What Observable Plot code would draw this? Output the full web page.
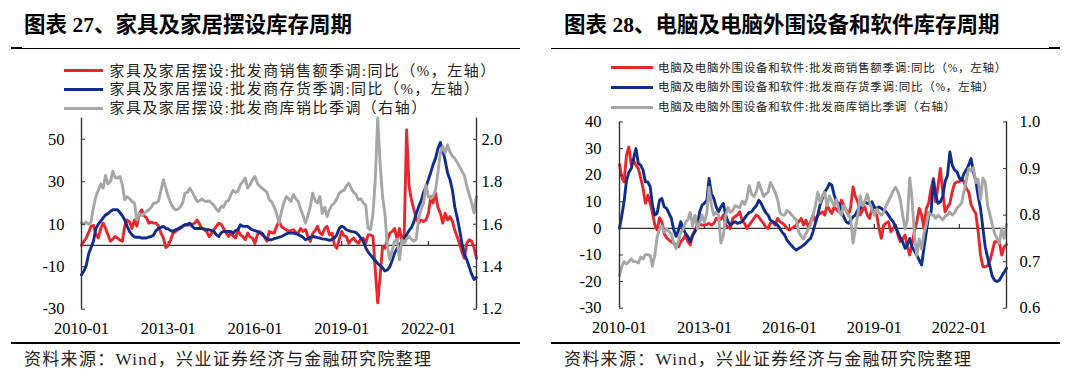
<!DOCTYPE html>
<html><head><meta charset="utf-8">
<script src="https://cdn.jsdelivr.net/npm/d3@7"></script>
<script src="https://cdn.jsdelivr.net/npm/@observablehq/plot@0.6"></script>
<style>
body{margin:0;background:#fff;}
#page{position:relative;width:1080px;height:384px;overflow:hidden;background:#fff;font-family:"Liberation Serif","Noto Sans CJK SC",serif;}
</style></head><body><div id="page"></div>
<script>
// ---- categories ----
const months = d3.utcMonth.range(new Date(Date.UTC(2010,0,1)), new Date(Date.UTC(2023,9,1))); // 2010-01 .. 2023-09
const xTickLabels = ["2010-01","2013-01","2016-01","2019-01","2022-01"];

const titles = ["图表 27、家具及家居摆设库存周期", "图表 28、电脑及电脑外围设备和软件库存周期"];
const furnLegend = ["家具及家居摆设:批发商销售额季调:同比（%，左轴）","家具及家居摆设:批发商存货季调:同比（%，左轴）","家具及家居摆设:批发商库销比季调（右轴）"];
const pcLegend = ["电脑及电脑外围设备和软件:批发商销售额季调:同比（%，左轴）","电脑及电脑外围设备和软件:批发商存货季调:同比（%，左轴）","电脑及电脑外围设备和软件:批发商库销比季调（右轴）"];
const sourceText = "资料来源：Wind，兴业证券经济与金融研究院整理";

// ---- 图表27 家具及家居摆设 ----
const furnSales = [
 0,2,3.5,6,9,9.5,5.5,3.5,8,10.5,8,5,
 2,3,4.2,3.5,2.5,2,9,12,11,8,12,9,
 15,16.8,14,13,10.5,11,10.5,10.5,9,5.8,3.5,-1,
 0,2.7,5.8,6.5,7.4,8,9,9.7,9.5,9.7,10,10.5,
 12,10,8,7.5,6.6,4.2,5.5,7.4,9,10.5,10,8,
 6,4.2,5.8,4.5,3.5,7.4,5,4.2,2.7,5.8,4,3.5,
 1,5,6.6,5,4,2,6.6,6,5.8,9,11.3,9,
 8,7.4,6.6,7,7.4,6,5.8,8,6.6,7.5,4.2,1.9,
 5.8,7,9,6,5,8,9,5,5.8,0.3,-1.3,2.7,
 6.6,4.5,4.2,1,2.5,3.5,1.9,1,3,3.5,1,5,
 5,4.2,-11.5,-27,-14.6,-0.5,-1.3,2.7,5.8,6.6,8,2.7,
 8,2,5,54.4,28,21.5,17,12.9,10.5,12,11.3,12,
 15,23,20,24.6,18,15.2,10.5,15.2,12,13.6,11.3,7,
 4,0.3,-3,-6,1,2.7,2,-1,-6];
const furnInv = [
 -13.8,-12,-9.5,-4,-1,2,8,10,11.5,13,14.4,15,
 16,16.8,16.8,16.8,15.5,14,12,9,6.5,5,4,3.9,
 3.9,3.5,3.5,3.5,4,4.2,5,7,8,8.5,9,8,
 7.8,7,6.6,7.4,7.8,8.5,9,9.7,10,10.5,9,8,
 8,8,8,7.8,7.4,7.4,7,6.6,5,4.2,6,6.6,
 6.6,6.6,6.6,5.8,7,7.4,9.7,9,9,9,8,7.4,
 7,6.6,6,5.8,4.2,3,2.7,2.7,3.2,3.5,3.9,4.2,
 4.8,5.5,5.8,5.8,5.8,5.5,5.2,4.5,3.9,2.7,3.2,3.8,
 4.2,4,3.7,3.5,3.1,3,2.8,2.4,2.8,3.5,5,8,
 9,8.5,7.4,7,6.6,6.4,6.1,5,3.5,1.9,-1,-3,
 -4.5,-6,-7,-8.5,-9.5,-10.5,-12,-11.5,-10,-7,-3.5,-1.5,
 0.3,2,3.5,5,7,8.5,11,15,18.4,21,25,27.5,
 31,34.5,38,41,45.5,48.5,45,40,34,31,26,18,
 13,7,1,-4,-6.7,-10,-13.5,-16,-15];
const furnRatio = [
 1.605,1.60,1.61,1.60,1.61,1.68,1.73,1.76,1.79,1.77,1.83,1.79,
 1.80,1.85,1.82,1.817,1.825,1.785,1.715,1.73,1.72,1.707,1.70,1.62,
 1.65,1.64,1.65,1.66,1.668,1.68,1.70,1.70,1.71,1.76,1.81,1.77,
 1.73,1.70,1.68,1.668,1.67,1.68,1.70,1.746,1.75,1.77,1.75,1.73,
 1.707,1.71,1.72,1.71,1.707,1.71,1.70,1.69,1.67,1.66,1.684,1.68,
 1.707,1.71,1.738,1.76,1.75,1.755,1.785,1.80,1.817,1.77,1.785,1.81,
 1.825,1.793,1.78,1.77,1.76,1.75,1.715,1.705,1.68,1.65,1.605,1.66,
 1.70,1.73,1.72,1.707,1.74,1.72,1.707,1.67,1.64,1.605,1.64,1.684,
 1.746,1.71,1.70,1.73,1.65,1.68,1.636,1.67,1.69,1.70,1.72,1.746,
 1.755,1.76,1.78,1.793,1.77,1.75,1.74,1.715,1.72,1.70,1.69,1.582,
 1.574,1.65,1.81,2.10,1.887,1.73,1.65,1.495,1.433,1.48,1.52,1.53,
 1.433,1.527,1.51,1.53,1.542,1.53,1.52,1.53,1.63,1.67,1.70,1.785,
 1.73,1.72,1.73,1.76,1.84,1.935,1.966,1.935,1.974,1.94,1.92,1.91,
 1.89,1.87,1.85,1.83,1.78,1.74,1.70,1.653,1.73];

// ---- 图表28 电脑及电脑外围设备和软件 ----
const pcSales = [
 24,19,17.5,27.5,30.6,24,25.6,23.75,22.5,19,15,9.4,
 12.5,9.4,6,1.25,-0.6,4,2.5,-2,-3.5,-4.4,-5,-5.6,
 -6.25,-6.9,-5,-4,-2.5,-5,-6.25,-2.5,-0.6,1.5,1.6,1.25,
 1.25,1.5,1.9,1.25,1.9,3.75,3.1,3.5,5,1.25,0.5,0,
 3.75,4.5,5,6.25,3,1.9,0,1.25,2.5,3.75,5,4.4,
 3,1.9,0.5,0,2,2.5,1.25,3.75,2.5,2,1.25,0,
 -0.6,0,0.6,1.25,2.5,3.75,1.25,3.1,0.6,2.5,5,2.5,
 5,5.5,6.25,5,8.75,7,5.6,8.1,7,6.25,10.6,8.75,
 7,5,8,15.6,12,10,5,7,8.1,5,3.75,7.5,
 6,5,0,-3.75,1.25,2,2.5,-1.25,0,1.25,-2.5,-5,
 -4,-2.5,-6.9,-10,-6,-1,2.5,7.5,5,0,7.5,9.4,
 15,18.75,10,16,22.5,13.75,6.25,8,9.4,13.75,16.9,17.5,
 17.5,18.75,17.5,15,13.75,9,7,5.6,-1.25,-10,-14.4,-14.4,
 -14,-12,-8.75,-5,-5,-5,-10,-7,-6];
const pcInv = [
 0,5,10,18,21,22.5,26.25,30,24.4,23.75,21.9,17.5,
 17.5,15.6,9,5,5.6,10.6,11.25,8.1,7.5,5.6,3.75,-0.5,
 -3,-0.6,2.5,0,-1.9,-3.1,-5,-2.5,-1.25,1,6.25,8.75,
 9.5,10.6,18.75,13,11.25,8.1,6.25,8.1,9.4,5,2.5,1.25,
 2,2.5,1.9,2.2,2.5,3.75,5,6,6.25,7.5,8.5,10.6,
 9.4,7.5,6,5,3.1,2.5,2,1.25,0,-1.5,-2.5,-4.4,
 -5.6,-6.5,-7.5,-8.1,-7.5,-7,-6.25,-5.5,-4.5,-3.75,-1.25,2,
 5,9,11.25,13.75,15,16.9,16.25,12.5,10,9.4,6.25,4.5,
 2.5,1.9,3,4.4,5,7,7.5,8.75,10,9.4,9.4,10,
 8,7.5,8.1,7.5,6.8,6.25,5,3.5,2.5,0.6,-1.5,-3.5,
 -5,-7.5,-6.25,-3.75,-7,-8.5,-10,-11.9,-13.75,-7.5,-1.25,5,
 6,18.1,12.5,9.4,10,12,17.5,20,28.75,23.75,21.9,21.25,
 19,18.1,20.6,22,23.75,26.25,21.25,18,12,7.5,0,-7,
 -11,-14.5,-18,-19.5,-20,-19.5,-18,-16.5,-15];
const pcRatio = [
 0.67,0.69,0.70,0.695,0.70,0.706,0.70,0.70,0.697,0.71,0.706,0.715,
 0.715,0.713,0.69,0.713,0.752,0.77,0.777,0.763,0.77,0.765,0.759,0.74,
 0.728,0.745,0.763,0.77,0.784,0.79,0.806,0.777,0.80,0.77,0.784,0.80,
 0.784,0.806,0.86,0.82,0.80,0.806,0.80,0.74,0.756,0.80,0.816,0.806,
 0.81,0.82,0.818,0.816,0.83,0.823,0.835,0.863,0.845,0.84,0.85,0.87,
 0.856,0.84,0.845,0.849,0.87,0.86,0.849,0.834,0.806,0.80,0.80,0.81,
 0.806,0.80,0.795,0.79,0.763,0.755,0.749,0.76,0.77,0.78,0.80,0.82,
 0.849,0.827,0.84,0.849,0.82,0.841,0.83,0.82,0.834,0.81,0.80,0.82,
 0.81,0.80,0.793,0.74,0.77,0.80,0.841,0.82,0.83,0.845,0.827,0.81,
 0.80,0.813,0.805,0.80,0.806,0.82,0.83,0.841,0.852,0.86,0.85,0.834,
 0.80,0.77,0.79,0.88,0.834,0.756,0.713,0.749,0.727,0.76,0.78,0.806,
 0.80,0.80,0.793,0.80,0.795,0.79,0.797,0.80,0.806,0.80,0.805,0.815,
 0.82,0.827,0.85,0.875,0.90,0.895,0.902,0.87,0.877,0.834,0.88,0.87,
 0.82,0.80,0.78,0.76,0.75,0.74,0.77,0.75,0.78];

// ---- axis ticks ----
const furnLeftTicks = [-30,-10,10,30,50];
const furnRightTicks = [1.2,1.4,1.6,1.8,2.0];
const pcLeftTicks = [-30,-20,-10,0,10,20,30,40];
const pcRightTicks = [0.6,0.7,0.8,0.9,1.0];

const RED = "#E8262B", BLUE = "#0F2D8C", GRAY = "#A6A6A6", AX = "#333";
const FONT = '"Liberation Serif","Noto Sans CJK SC",serif';
const page = document.getElementById("page");

function el(parent, css, text){const d=document.createElement("div");d.style.cssText=css;if(text!=null)d.textContent=text;parent.appendChild(d);return d;}

function panel(cfg){
  const p = el(page, `position:absolute;top:0;left:${cfg.ox}px;width:540px;height:384px;`);
  el(p, `position:absolute;left:24px;top:14px;font-size:21.5px;font-weight:bold;white-space:nowrap;line-height:1.1;color:#000;`, cfg.title);
  el(p, `position:absolute;left:11px;top:47.5px;width:509px;height:1.3px;background:#000;`);
  el(p, `position:absolute;left:${cfg.stubL}px;top:46.8px;width:11px;height:2.6px;background:#000;`);
  const cols=[RED,BLUE,GRAY];
  cfg.legend.forEach((txt,i)=>{
    const cy = cfg.legY[i];
    el(p, `position:absolute;left:${cfg.swX}px;top:${cy-1.5}px;width:${cfg.swW}px;height:3px;background:${cols[i]};`);
    el(p, `position:absolute;left:${cfg.legX}px;top:${cy-10}px;height:20px;line-height:20px;font-size:${cfg.legFs}px;letter-spacing:${cfg.legLs}px;white-space:nowrap;color:#222;`, txt);
  });
  el(p, `position:absolute;left:11px;top:342.3px;width:509px;height:2px;background:#000;`);
  el(p, `position:absolute;left:24px;top:351px;font-size:17px;letter-spacing:1.3px;line-height:18px;white-space:nowrap;color:#222;`, sourceText);

  const xTicks = xTickLabels.map(s=>new Date(s+"-01T00:00:00Z"));
  const last = months[months.length-1];
  const rows = arr => months.map((d,i)=>({date:d, v:arr[i]}));
  const chart = Plot.plot({
    width:540, height:235,
    marginLeft:cfg.ml, marginRight:cfg.mr, marginTop:cfg.mt, marginBottom:cfg.mb,
    x:{type:"utc", domain:[months[0], last], label:null},
    y:{domain:cfg.yDomain, label:null},
    style:{background:"transparent", fontFamily:FONT, fontSize:"16.5px", color:"#000", overflow:"visible"},
    marks:[
      Plot.ruleY([0], {stroke:AX, strokeWidth:1.2}),
      Plot.ruleX(xTicks, {y1:0, y2:0, insetTop:-4, stroke:AX, strokeWidth:1.2}),
      Plot.line(rows(cfg.sales), {x:"date", y:"v", stroke:RED, strokeWidth:2.9, strokeLinejoin:"round"}),
      Plot.line(rows(cfg.inv), {x:"date", y:"v", stroke:BLUE, strokeWidth:2.9, strokeLinejoin:"round"}),
      Plot.line(rows(cfg.ratio), {x:"date", y:d=>cfg.toL(d.v), stroke:GRAY, strokeWidth:2.9, strokeLinejoin:"round"}),
      Plot.ruleX([months[0], last], {y1:cfg.yDomain[0], y2:cfg.yDomain[1], stroke:AX, strokeWidth:1.4}),
      Plot.axisY(cfg.leftTicks, {anchor:"left", tickSize:4, dx:4, tickPadding:cfg.lpad, stroke:AX, tickFormat:d=>String(d)}),
      Plot.axisY(cfg.rightTicks.map(cfg.toL), {anchor:"right", tickSize:4, dx:-4, tickPadding:cfg.rpad, stroke:AX, tickFormat:d=>cfg.fromL(d).toFixed(1)}),
      Plot.axisX(xTicks, {anchor:"bottom", tickSize:0, tickPadding:13.5, tickFormat:d3.utcFormat("%Y-%m")})
    ]
  });
  chart.style.position="absolute"; chart.style.left="0px"; chart.style.top="110px";
  p.appendChild(chart);
}

panel({ox:0, title:titles[0], stubL:11, legend:furnLegend, legY:[70.5,89,108], swX:64, swW:39, legX:109.5, legFs:15, legLs:1.45,
  sales:furnSales, inv:furnInv, ratio:furnRatio, yDomain:[-30,60],
  toL:r=>(r-1.5)*100, fromL:L=>1.5+L/100,
  leftTicks:furnLeftTicks, rightTicks:furnRightTicks,
  ml:81, mr:64, mt:7.5, mb:36.3, lpad:17, rpad:5});
panel({ox:540, title:titles[1], stubL:509, legend:pcLegend, legY:[67.7,87.3,107.3], swX:70.6, swW:42, legX:118, legFs:11.5, legLs:0.75,
  sales:pcSales, inv:pcInv, ratio:pcRatio, yDomain:[-30,40],
  toL:r=>-30+(r-0.6)*175, fromL:L=>0.6+(L+30)/175,
  leftTicks:pcLeftTicks, rightTicks:pcRightTicks,
  ml:79, mr:74, mt:11.5, mb:37.3, lpad:18, rpad:13});
</script></body></html>
